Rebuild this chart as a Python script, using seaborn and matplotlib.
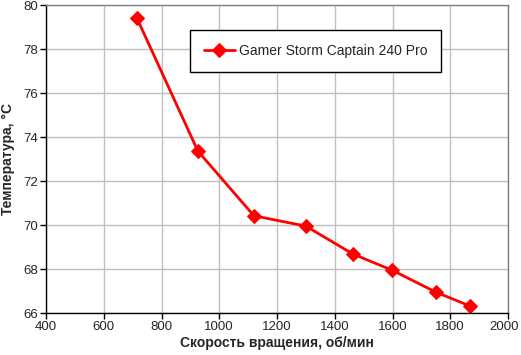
import matplotlib
matplotlib.use("Agg")
import matplotlib.pyplot as plt
import matplotlib.transforms as mtransforms
import seaborn as sns
import pandas as pd

speed = [715, 926, 1120, 1300, 1463, 1598, 1750, 1868]
temp = [79.4, 73.36, 70.42, 69.95, 68.68, 67.95, 66.95, 66.32]
series_name = "Gamer Storm Captain 240 Pro"
xticks = [400, 600, 800, 1000, 1200, 1400, 1600, 1800, 2000]
yticks = [66, 68, 70, 72, 74, 76, 78, 80]

sns.set_style("white")
plt.rcParams['font.family'] = ['Liberation Sans', 'DejaVu Sans']

df = pd.DataFrame({"speed": speed, "temp": temp, "name": series_name})

fig = plt.figure(figsize=(5.21, 3.55), dpi=100)
ax = fig.add_axes([46/521, 1-313/355, 462/521, 308/355])

sns.lineplot(data=df, x="speed", y="temp", hue="name", palette=["#ff0000"],
             marker="D", markersize=7, markeredgecolor="#ff0000",
             linewidth=2, ax=ax, legend=True)

ax.set_xlim(400, 2000)
ax.set_ylim(66, 80)
ax.set_xticks(xticks)
ax.set_yticks(yticks)
ax.tick_params(axis='both', labelsize=9.5, direction='out', length=4, width=1,
               color='black', pad=2, left=True, bottom=True)
ax.grid(True, color='#c0c0c0', linewidth=1)
ax.set_axisbelow(True)
for s in ['left', 'bottom']:
    ax.spines[s].set_color('black')
    ax.spines[s].set_linewidth(1)
for s in ['top', 'right']:
    ax.spines[s].set_color('#808080')
    ax.spines[s].set_linewidth(1)

ax.set_xlabel("Скорость вращения, об/мин", fontsize=10, fontweight='bold', labelpad=2)
ax.set_ylabel("Температура, °С", fontsize=10, fontweight='bold', labelpad=6)

# keep the last x tick label inside the figure edge
last = ax.get_xticklabels()[-1]
last.set_transform(last.get_transform() +
                   mtransforms.ScaledTranslation(-4/100, 0, fig.dpi_scale_trans))

leg = ax.legend(loc='upper left', bbox_to_anchor=(0.312, 0.918), fontsize=10,
                frameon=True, fancybox=False, shadow=False, handlelength=2.2,
                borderpad=1.0, borderaxespad=0, handletextpad=0.3)
leg.get_frame().set_edgecolor('black')
leg.get_frame().set_linewidth(1)
leg.get_frame().set_alpha(1)

fig.savefig("out.png", dpi=100)
